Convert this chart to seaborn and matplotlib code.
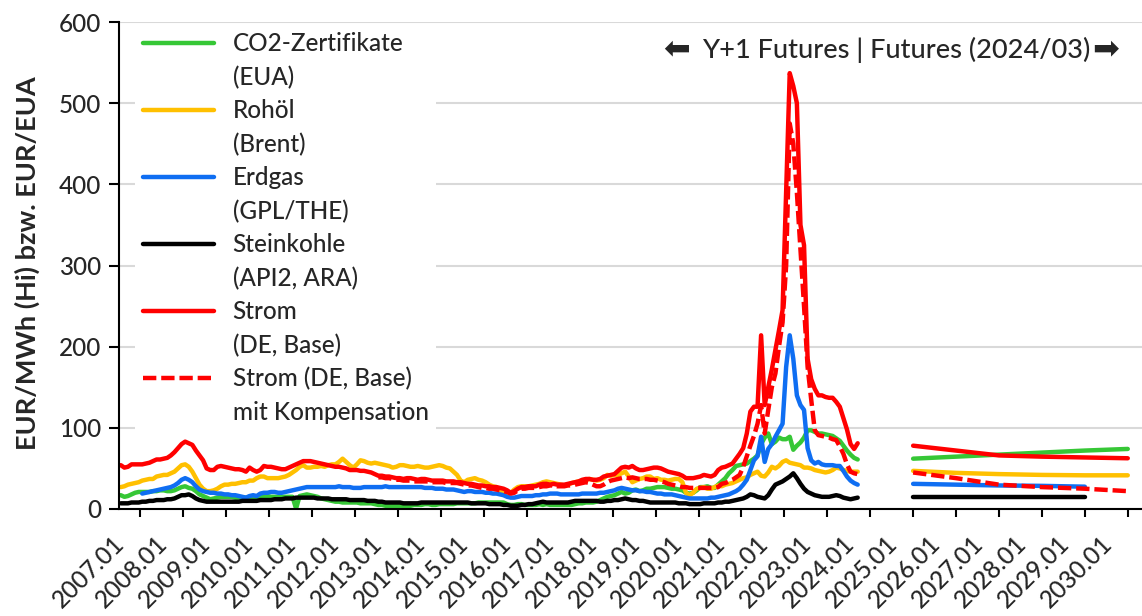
import matplotlib
matplotlib.use("Agg")
import matplotlib.pyplot as plt
from matplotlib.lines import Line2D
import seaborn as sns

# ---- monthly history (front prices), starting 2007.01 unless noted ----
first_year = 2007
gas_start_month = 6      # natural gas series begins 2007.07
comp_start_month = 72    # compensated power series begins 2013.01

co2 = [
    17, 15, 16, 18, 20, 21, 21, 21, 21, 22, 22, 23,      # 2007
    23, 22, 22, 23, 25, 27, 28, 26, 25, 22, 18, 16,      # 2008
    14, 12, 13, 14, 15, 15, 15, 15, 14, 14, 14, 14,      # 2009
    13, 13, 14, 15, 16, 16, 15, 15, 15, 15, 15, 15,      # 2010
    15, 0.5, 16, 17, 18, 17, 16, 15, 13, 12, 11, 10,     # 2011
    9, 9, 8, 8, 8, 8, 8, 7, 7, 7, 7, 6,                  # 2012
    5, 5, 4, 4, 4, 4, 4, 4, 4, 4, 5, 5,                  # 2013
    5, 6, 6, 5, 5, 6, 6, 6, 6, 6, 7, 7,                  # 2014
    7, 7, 7, 7, 8, 8, 8, 8, 8, 8, 8, 8,                  # 2015
    6, 5, 5, 6, 6, 5, 5, 5, 5, 6, 5, 6,                  # 2016
    5, 5, 5, 5, 5, 5, 5, 6, 7, 7, 8, 8,                  # 2017
    8, 9, 11, 13, 15, 16, 17, 19, 21, 19, 20, 23,        # 2018
    24, 22, 23, 25, 25, 26, 27, 27, 27, 26, 25, 25,      # 2019
    24, 23, 20, 19, 20, 23, 27, 27, 28, 26, 26, 30,      # 2020
    34, 38, 44, 48, 53, 54, 55, 56, 59, 62, 66, 80,      # 2021
    88, 93, 80, 83, 88, 86, 86, 89, 73, 78, 82, 88,      # 2022
    97, 97, 95, 93, 93, 92, 91, 90, 87, 84, 78, 72,      # 2023
    67, 63, 61,                                          # 2024
]

oil = [
    27, 28, 30, 31, 32, 33, 35, 36, 37, 37, 40, 41,      # 2007
    42, 42, 44, 46, 50, 54, 55, 52, 46, 38, 30, 25,      # 2008
    22, 22, 23, 25, 28, 30, 30, 31, 31, 32, 33, 33,      # 2009
    35, 35, 38, 40, 40, 38, 38, 38, 38, 39, 40, 42,      # 2010
    45, 48, 52, 54, 51, 51, 52, 52, 53, 52, 54, 55,      # 2011
    55, 58, 62, 58, 54, 51, 55, 60, 59, 57, 56, 57,      # 2012
    56, 55, 54, 53, 51, 52, 54, 54, 53, 52, 52, 53,      # 2013
    52, 51, 51, 52, 53, 54, 53, 51, 50, 46, 42, 35,      # 2014
    33, 36, 37, 38, 36, 35, 33, 30, 28, 27, 23, 21,      # 2015
    19, 20, 24, 27, 28, 28, 28, 29, 30, 31, 33, 34,      # 2016
    33, 32, 31, 30, 29, 30, 32, 33, 34, 35, 36, 37,      # 2017
    36, 35, 36, 38, 42, 41, 42, 42, 44, 46, 40, 33,      # 2018
    35, 37, 38, 40, 40, 37, 38, 36, 36, 35, 36, 37,      # 2019
    37, 33, 20, 17, 20, 25, 26, 27, 25, 25, 27, 29,      # 2020
    28, 30, 31, 32, 34, 36, 38, 39, 42, 44, 46, 41,      # 2021
    40, 45, 52, 50, 53, 58, 60, 57, 56, 55, 54, 51,      # 2022
    51, 50, 48, 47, 46, 45, 46, 48, 51, 50, 48, 47,      # 2023
    46, 46, 46,                                          # 2024
]

gas = [
    19, 20, 21, 22, 23, 24,                              # 2007 (from July)
    25, 26, 27, 29, 32, 36, 38, 36, 33, 28, 24, 22,      # 2008
    21, 20, 20, 19, 19, 18, 18, 17, 17, 16, 15, 14,      # 2009
    16, 17, 16, 19, 20, 20, 21, 21, 20, 20, 21, 22,      # 2010
    23, 24, 25, 26, 27, 27, 27, 27, 27, 27, 27, 27,      # 2011
    27, 28, 27, 27, 27, 26, 26, 26, 27, 27, 27, 27,      # 2012
    27, 27, 28, 27, 27, 27, 27, 27, 27, 27, 27, 27,      # 2013
    27, 26, 26, 26, 25, 25, 25, 24, 24, 24, 23, 22,      # 2014
    21, 22, 22, 21, 21, 21, 20, 20, 19, 19, 18, 17,      # 2015
    15, 14, 14, 15, 16, 16, 16, 16, 17, 17, 18, 18,      # 2016
    19, 19, 19, 18, 18, 18, 18, 18, 18, 19, 19, 19,      # 2017
    19, 19, 20, 20, 21, 22, 23, 25, 26, 25, 24, 23,      # 2018
    23, 22, 22, 21, 21, 20, 19, 19, 18, 18, 18, 17,      # 2019
    16, 15, 14, 13, 13, 13, 13, 13, 13, 14, 14, 15,      # 2020
    16, 17, 18, 20, 22, 25, 30, 36, 48, 60, 65, 89,      # 2021
    58, 74, 80, 89, 97, 105, 175, 214, 185, 140, 128, 122,  # 2022
    75, 60, 56, 58, 55, 54, 54, 54, 53, 53, 47, 40,      # 2023
    35, 32, 30,                                          # 2024
]

coal = [
    7, 7, 7, 8, 8, 8, 9, 9, 10, 10, 11, 11,              # 2007
    11, 12, 12, 13, 15, 17, 17, 18, 16, 13, 11, 10,      # 2008
    9, 9, 9, 9, 9, 9, 9, 9, 9, 9, 10, 10,                # 2009
    10, 10, 10, 11, 11, 11, 11, 12, 12, 12, 13, 13,      # 2010
    13, 14, 14, 14, 14, 14, 14, 13, 13, 13, 13, 12,      # 2011
    12, 12, 12, 12, 11, 11, 11, 11, 11, 10, 10, 10,      # 2012
    9, 9, 8, 8, 8, 8, 8, 7, 7, 7, 7, 7,                  # 2013
    8, 8, 8, 8, 8, 8, 8, 8, 8, 8, 8, 8,                  # 2014
    8, 8, 7, 7, 7, 7, 7, 6, 6, 6, 6, 5,                  # 2015
    5, 4, 4, 4, 5, 5, 6, 6, 7, 8, 9, 8,                  # 2016
    8, 8, 8, 8, 8, 8, 9, 10, 10, 10, 10, 10,             # 2017
    10, 10, 9, 9, 10, 10, 11, 11, 12, 13, 12, 11,        # 2018
    11, 10, 10, 9, 8, 8, 8, 8, 8, 8, 8, 8,               # 2019
    7, 7, 7, 6, 6, 6, 6, 7, 7, 7, 7, 8,                  # 2020
    8, 9, 9, 10, 11, 12, 13, 15, 18, 17, 15, 14,         # 2021
    13, 17, 24, 30, 32, 34, 37, 40, 44, 38, 31, 25,      # 2022
    21, 19, 17, 16, 15, 15, 15, 16, 17, 16, 14, 13,      # 2023
    12, 13, 14,                                          # 2024
]

power = [
    54, 51, 52, 55, 55, 55, 55, 56, 57, 59, 61, 61,      # 2007
    62, 63, 66, 70, 75, 80, 83, 81, 79, 72, 66, 60,      # 2008
    50, 48, 48, 52, 53, 52, 51, 50, 49, 49, 48, 46,      # 2009
    51, 48, 46, 48, 53, 52, 52, 51, 50, 49, 49, 51,      # 2010
    53, 55, 57, 59, 59, 59, 58, 57, 56, 55, 54, 53,      # 2011
    52, 52, 51, 50, 48, 48, 48, 47, 47, 46, 45, 43,      # 2012
    41, 41, 40, 40, 39, 38, 38, 37, 38, 38, 37, 36,      # 2013
    37, 37, 36, 35, 35, 35, 35, 34, 34, 34, 33, 33,      # 2014
    32, 31, 31, 30, 29, 29, 28, 28, 27, 27, 26, 25,      # 2015
    23, 20, 22, 25, 27, 27, 28, 28, 28, 30, 31, 31,      # 2016
    30, 31, 30, 30, 30, 31, 32, 33, 34, 36, 37, 37,      # 2017
    36, 36, 37, 40, 41, 42, 43, 47, 51, 52, 51, 53,      # 2018
    50, 48, 48, 49, 50, 51, 51, 50, 48, 46, 45, 44,      # 2019
    43, 41, 38, 38, 38, 39, 40, 42, 41, 40, 42, 48,      # 2020
    51, 52, 54, 56, 62, 68, 75, 93, 120, 126, 126, 214,  # 2021
    128, 150, 172, 196, 220, 245, 390, 537, 521, 500, 350, 325,  # 2022
    185, 160, 148, 140, 140, 138, 137, 137, 132, 126, 112, 98,   # 2023
    80, 74, 81,                                          # 2024
]

power_comp = [
    39, 39, 38, 38, 37, 36, 36, 35, 35, 35, 34, 34,      # 2013
    34, 34, 34, 33, 33, 33, 33, 32, 32, 32, 32, 31,      # 2014
    30, 29, 29, 28, 27, 26, 26, 25, 25, 24, 23, 22,      # 2015
    21, 19, 20, 23, 25, 25, 26, 26, 26, 27, 28, 28,      # 2016
    29, 29, 28, 28, 28, 29, 29, 30, 31, 32, 33, 32,      # 2017
    30, 28, 28, 30, 33, 35, 36, 37, 38, 39, 38, 39,      # 2018
    38, 37, 37, 37, 36, 36, 35, 34, 33, 31, 30, 29,      # 2019
    28, 27, 27, 26, 26, 26, 26, 26, 26, 26, 26, 27,      # 2020
    31, 32, 34, 36, 39, 42, 52, 65, 78, 90, 105, 128,    # 2021
    93, 122, 150, 167, 200, 230, 300, 475, 450, 390, 320, 250,  # 2022
    175, 135, 97, 91, 90, 89, 88, 86, 85, 77, 68, 55,    # 2023
    46, 44, 43,                                          # 2024
]

# ---- calendar-year futures (settlement 2024/03) ----
fut_years = [2025, 2026, 2027, 2028, 2029, 2030]
co2_fut = [62, 64.5, 67, 69.5, 72, 74]
oil_fut = [47, 44.5, 43, 42, 41.5, 41.5]
gas_fut = [31, 30, 29, 28.5, 27.5]
coal_fut = [14.5, 14.5, 14.5, 14.5, 14.5]
power_fut = [78, 72, 66, 64.5, 63.5, 62.5]
power_comp_fut = [45, 38, 30, 27, 25, 22]

legend_lines = ["CO2-Zertifikate", "(EUA)", "Rohöl", "(Brent)", "Erdgas", "(GPL/THE)",
                "Steinkohle", "(API2, ARA)", "Strom", "(DE, Base)",
                "Strom (DE, Base)", "mit Kompensation"]
tick_years = list(range(2007, 2031))
tick_labels = [f"{y}.01" for y in tick_years]
note_text = "Y+1 Futures | Futures (2024/03)"
arrow_left = "\u2B05"
arrow_right = "\u27A1"
y_title = "EUR/MWh (Hi) bzw. EUR/EUA"

# ---- styling ----
sns.set_style("white")
plt.rcParams["font.family"] = ["Lato", "DejaVu Sans"]
plt.rcParams["font.weight"] = "medium"
FS = 17.5

GREEN = "#36C736"
YELLOW = "#FFC000"
BLUE = "#0F6EF2"
BLACK = "#000000"
RED = "#FF0000"
LW = 3.2
DASH = (0, (3.0, 1.1))


def month_axis(start, n):
    """Decimal-year positions for n monthly values beginning at month index start."""
    return [first_year + (start + i) / 12 for i in range(n)]


def year_axis(years):
    """Calendar-year products sit in the middle of their year."""
    return [y + 5.5 / 12 for y in years]


fig = plt.figure(figsize=(11.42, 6.16), dpi=100)
ax = fig.add_axes([119 / 1142, 107 / 616, 1023 / 1142, 487 / 616])

series = [
    (co2, 0, co2_fut, GREEN, "-"),
    (oil, 0, oil_fut, YELLOW, "-"),
    (gas, gas_start_month, gas_fut, BLUE, "-"),
    (coal, 0, coal_fut, BLACK, "-"),
    (power, 0, power_fut, RED, "-"),
    (power_comp, comp_start_month, power_comp_fut, RED, DASH),
]

handles = []
for hist, start, fut, color, ls in series:
    kw = dict(color=color, linewidth=LW, linestyle=ls, ax=ax, legend=False,
              solid_joinstyle="round", solid_capstyle="round",
              dash_capstyle="butt", dash_joinstyle="round")
    sns.lineplot(x=month_axis(start, len(hist)), y=hist, **kw)
    sns.lineplot(x=year_axis(fut_years[:len(fut)]), y=fut, **kw)
    handles.append(Line2D([], [], color=color, linewidth=LW, linestyle=ls,
                          dash_capstyle="butt"))

# axes ranges and ticks
ax.set_xlim(first_year - 0.5 / 12, 2030.79)
ax.set_ylim(0, 600)
ax.set_yticks(range(0, 601, 100))
ax.set_xticks(tick_years, labels=tick_labels)
ax.set_xticks(year_axis(tick_years), minor=True)
ax.tick_params(axis="x", which="major", length=0, pad=22, labelsize=FS)
ax.tick_params(axis="x", which="minor", length=5.5, width=1.5, direction="out",
               color="black", bottom=True)
ax.tick_params(axis="y", length=7, width=1.5, direction="out", pad=6,
               labelsize=FS, left=True, color="black")
for lab in ax.get_xticklabels():
    lab.set_rotation(45)
    lab.set_ha("right")
    lab.set_va("center")
    lab.set_rotation_mode("anchor")

ax.yaxis.grid(True, color="#D9D9D9", linewidth=1.5)
ax.xaxis.grid(False)
ax.set_axisbelow(True)
for side in ("top", "right"):
    ax.spines[side].set_visible(False)
for side in ("left", "bottom"):
    ax.spines[side].set_color("black")
    ax.spines[side].set_linewidth(1.5)
ax.set_xlabel("")
ax.set_ylabel("")

fig.text(27 / 1142, (616 - 263) / 616, y_title, rotation=90, ha="center",
         va="center", fontsize=19.5, fontweight="bold")

# futures note with heavy arrows on both sides
note = ax.text(0.949, 0.9425, note_text, transform=ax.transAxes, ha="right",
               va="center", fontsize=19.5)
ax.annotate(arrow_left, xy=(0, 0.5), xycoords=note, xytext=(-8, 0),
            textcoords="offset points", ha="right", va="center",
            fontsize=23, family="DejaVu Sans")
ax.annotate(arrow_right, xy=(1, 0.5), xycoords=note, xytext=(1.5, 0),
            textcoords="offset points", ha="left", va="center",
            fontsize=23, family="DejaVu Sans")

# two-row legend entries: colored line on the first row of each label
blank = Line2D([], [], color="none")
leg_handles = []
for h in handles:
    leg_handles += [h, blank]
leg = ax.legend(leg_handles, legend_lines, loc="upper left",
                bbox_to_anchor=(0.016, 0.994), fontsize=FS, frameon=True,
                handlelength=2.95, handletextpad=0.75, labelspacing=0.425,
                borderpad=0.3, borderaxespad=0, fancybox=False)
leg.get_frame().set_facecolor("white")
leg.get_frame().set_edgecolor("none")
leg.get_frame().set_alpha(1)

fig.savefig("out.png", dpi=100)
